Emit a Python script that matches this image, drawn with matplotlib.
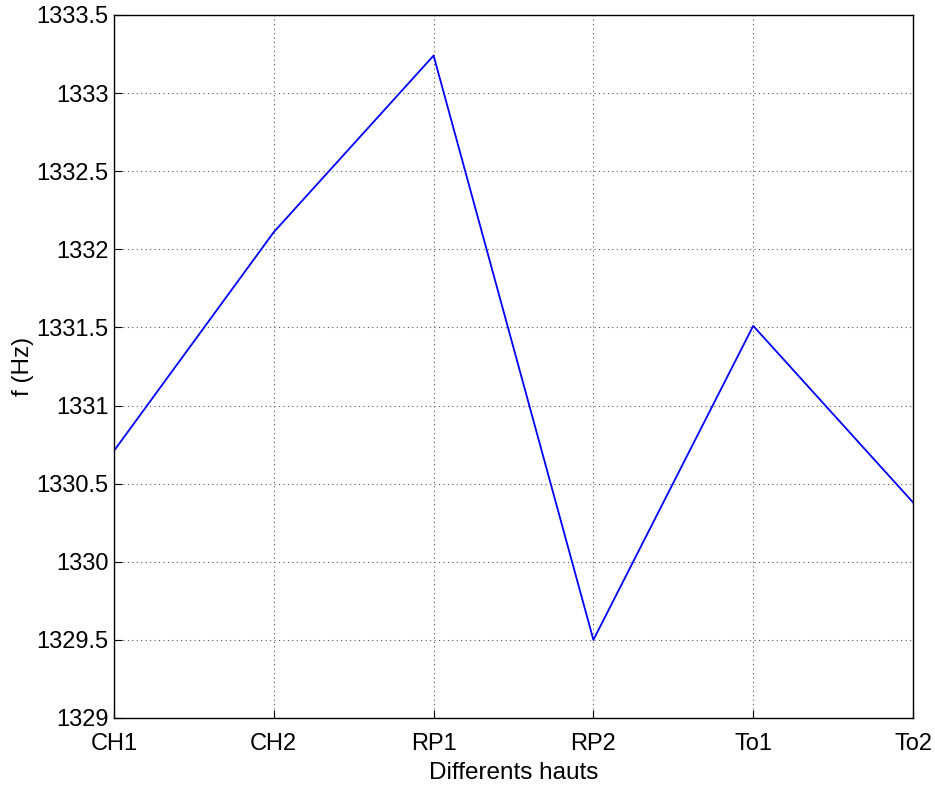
import matplotlib
matplotlib.use("Agg")
import matplotlib.pyplot as plt

plt.rcParams['font.family'] = ['Liberation Sans', 'DejaVu Sans']

hauts = ['CH1', 'CH2', 'RP1', 'RP2', 'To1', 'To2']
freq = [1330.71, 1332.11, 1333.24, 1329.50, 1331.51, 1330.38]
yticks = [1329, 1329.5, 1330, 1330.5, 1331, 1331.5, 1332, 1332.5, 1333, 1333.5]

fig = plt.figure(figsize=(9.35, 7.87), dpi=100)
ax = fig.add_axes([0.1219, 0.0877, 0.8546, 0.8933])

x = list(range(len(hauts)))
ax.plot(x, freq, color='blue', linewidth=1.3)

ax.set_xlim(0, len(hauts) - 1)
ax.set_ylim(1329, 1333.5)
ax.set_xticks(x)
ax.set_xticklabels(hauts)
ax.set_yticks(yticks)
ax.set_yticklabels(['%g' % v for v in yticks])

ax.grid(True, color='#555555', linestyle=(0, (1, 3)), linewidth=0.8)
ax.tick_params(direction='in', length=6, labelsize=17)
ax.tick_params(axis='x', pad=11)
ax.tick_params(axis='y', pad=4)
for s in ax.spines.values():
    s.set_linewidth(1.0)

ax.set_xlabel('Differents hauts', fontsize=17.5, labelpad=5)
ax.set_ylabel('f (Hz)', fontsize=17.5, labelpad=2)

fig.savefig('out.png', dpi=100)
